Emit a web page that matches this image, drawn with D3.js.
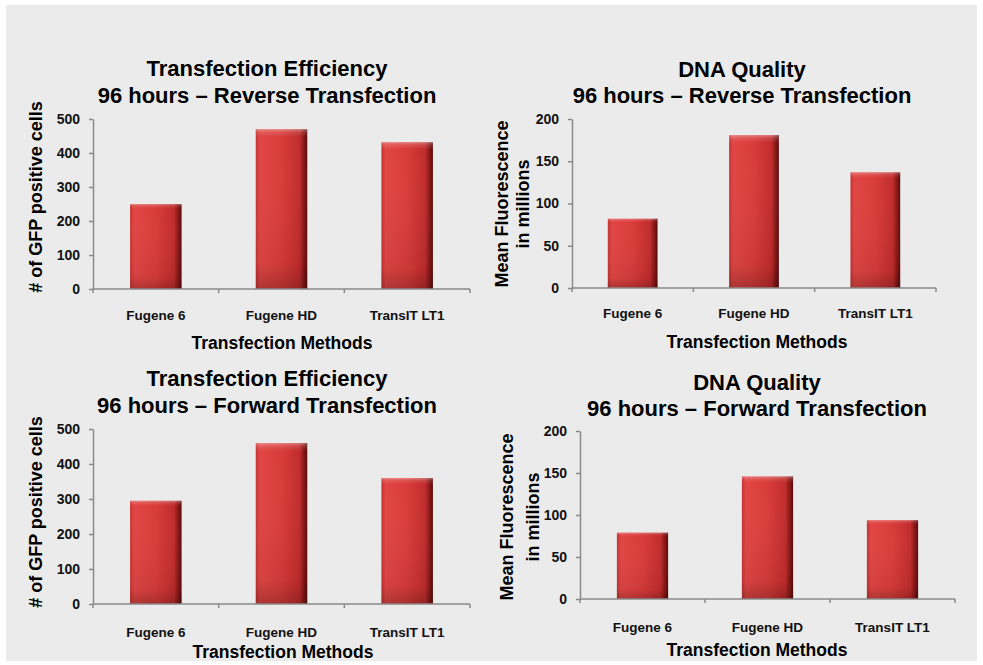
<!DOCTYPE html>
<html><head><meta charset="utf-8">
<script src="https://cdn.jsdelivr.net/npm/d3@7"></script>
<style>body{margin:0;background:#fff;}svg{display:block;font-family:"Liberation Sans",Arial,sans-serif;}</style>
</head><body>
<svg id="c" width="983" height="665"></svg>
<script>
const categories = ["Fugene 6", "Fugene HD", "TransIT LT1"];
const effReverse = [250, 470, 432];
const dnaReverse = [82, 181, 137];
const effForward = [295, 460, 360];
const dnaForward = [79, 146, 94];
const effTicks = [0, 100, 200, 300, 400, 500];
const dnaTicks = [0, 50, 100, 150, 200];
const titleEff = "Transfection Efficiency";
const titleDna = "DNA Quality";
const subReverse = "96 hours \u2013 Reverse Transfection";
const subForward = "96 hours \u2013 Forward Transfection";
const yTitleEff = ["# of GFP positive cells"];
const yTitleDna = ["Mean Fluorescence", "in millions"];
const xTitle = "Transfection Methods";

const panels = [
  {values: effReverse, ticks: effTicks, max: 500, t1: titleEff, t2: subReverse, yt: yTitleEff,
   x0: 93, x1: 470, y0: 289, y1: 119, tY1: 68, tY2: 95, tX: 267, catY: 315, xtY: 343, xtX: 282, ytX: [36], ytY: 197},
  {values: dnaReverse, ticks: dnaTicks, max: 200, t1: titleDna, t2: subReverse, yt: yTitleDna,
   x0: 572, x1: 936, y0: 288, y1: 119, tY1: 69, tY2: 95, tX: 742, catY: 313, xtY: 342, xtX: 757, ytX: [502, 523], ytY: 204},
  {values: effForward, ticks: effTicks, max: 500, t1: titleEff, t2: subForward, yt: yTitleEff,
   x0: 93, x1: 470, y0: 604, y1: 429, tY1: 378, tY2: 405, tX: 267, catY: 632, xtY: 652, xtX: 283, ytX: [36], ytY: 512},
  {values: dnaForward, ticks: dnaTicks, max: 200, t1: titleDna, t2: subForward, yt: yTitleDna,
   x0: 580, x1: 955, y0: 599, y1: 431, tY1: 382, tY2: 408, tX: 757, catY: 627, xtY: 650, xtX: 757, ytX: [507, 533], ytY: 517}
];

const svg = d3.select("#c");
svg.append("rect").attr("x", 6).attr("y", 5).attr("width", 971).attr("height", 656).attr("fill", "#ebebeb");

const defs = svg.append("defs");
const gh = defs.append("linearGradient").attr("id", "gh").attr("x1", 0).attr("x2", 1).attr("y1", 0).attr("y2", 0);
[[0, "#c43434"], [0.08, "#e04644"], [0.5, "#d83c3a"], [0.85, "#c02c2c"], [0.93, "#8c1818"], [1, "#5a0c0c"]]
  .forEach(([o, c]) => gh.append("stop").attr("offset", o).attr("stop-color", c));
const gv = defs.append("linearGradient").attr("id", "gv").attr("x1", 0).attr("x2", 0).attr("y1", 0).attr("y2", 1);
[[0, "#ffffff", 0.35], [0.02, "#ffffff", 0.12], [0.05, "#ffffff", 0], [0.85, "#000000", 0.05], [1, "#000000", 0.22]]
  .forEach(([o, c, a]) => gv.append("stop").attr("offset", o).attr("stop-color", c).attr("stop-opacity", a));

panels.forEach(p => {
  const g = svg.append("g");
  const x = d3.scaleBand().domain(categories).range([p.x0, p.x1]).paddingInner(0.59).paddingOuter(0.295);
  const y = d3.scaleLinear().domain([0, p.max]).range([p.y0, p.y1]);

  const bars = g.selectAll(".bar").data(p.values).enter();
  bars.append("rect").attr("x", (d, i) => x(categories[i])).attr("width", x.bandwidth())
    .attr("y", d => y(d)).attr("height", d => y(0) - y(d)).attr("fill", "url(#gh)");
  bars.append("rect").attr("x", (d, i) => x(categories[i])).attr("width", x.bandwidth())
    .attr("y", d => y(d)).attr("height", d => y(0) - y(d)).attr("fill", "url(#gv)");

  const ya = g.append("g").attr("transform", `translate(${p.x0},0)`)
    .call(d3.axisLeft(y).tickValues(p.ticks).tickSize(4).tickPadding(9).tickSizeOuter(0));
  ya.select(".domain").attr("stroke", "#8a8a8a").attr("stroke-width", 1.5);
  ya.selectAll(".tick line").attr("stroke", "#8a8a8a").attr("stroke-width", 1.5);
  ya.selectAll("text").attr("font-size", 14).attr("font-weight", "bold").attr("fill", "#111")
    .style("font-family", "'Liberation Sans', Arial, sans-serif");

  g.append("line").attr("x1", p.x0).attr("x2", p.x1).attr("y1", p.y0).attr("y2", p.y0)
    .attr("stroke", "#8a8a8a").attr("stroke-width", 1.5);
  const bounds = d3.range(categories.length + 1).map(i => p.x0 + i * (p.x1 - p.x0) / categories.length);
  g.selectAll(".xt").data(bounds).enter().append("line")
    .attr("x1", d => d).attr("x2", d => d).attr("y1", p.y0).attr("y2", p.y0 + 4)
    .attr("stroke", "#8a8a8a").attr("stroke-width", 1.5);
  g.selectAll(".cat").data(categories).enter().append("text")
    .attr("x", d => x(d) + x.bandwidth() / 2).attr("y", p.catY).attr("text-anchor", "middle")
    .attr("dominant-baseline", "central").attr("font-size", 13.5).attr("font-weight", "bold")
    .attr("fill", "#111").text(d => d);

  g.append("text").attr("x", p.tX).attr("y", p.tY1).attr("text-anchor", "middle").attr("dominant-baseline", "central")
    .attr("font-size", 22).attr("font-weight", "bold").attr("fill", "#000").text(p.t1);
  g.append("text").attr("x", p.tX).attr("y", p.tY2).attr("text-anchor", "middle").attr("dominant-baseline", "central")
    .attr("font-size", 22).attr("font-weight", "bold").attr("fill", "#000").text(p.t2);

  g.append("text").attr("x", p.xtX).attr("y", p.xtY).attr("text-anchor", "middle").attr("dominant-baseline", "central")
    .attr("font-size", 17.5).attr("font-weight", "bold").attr("fill", "#000").text(xTitle);

  p.yt.forEach((t, i) => {
    g.append("text").attr("transform", `translate(${p.ytX[i]},${p.ytY}) rotate(-90)`)
      .attr("text-anchor", "middle").attr("dominant-baseline", "central")
      .attr("font-size", 18).attr("font-weight", "bold").attr("fill", "#000").text(t);
  });
});
</script>
</body></html>
